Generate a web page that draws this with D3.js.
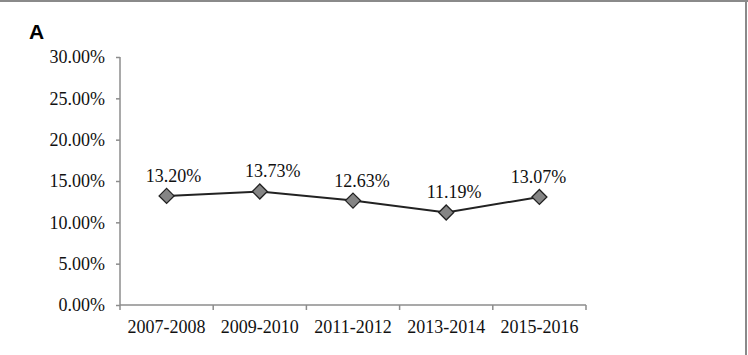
<!DOCTYPE html>
<html><head><meta charset="utf-8">
<script src="https://cdn.jsdelivr.net/npm/d3@7"></script>
<style>html,body{margin:0;padding:0;background:#fff;}svg{display:block;}</style>
</head><body>
<script>
const categories = ["2007-2008", "2009-2010", "2011-2012", "2013-2014", "2015-2016"];
const values = [13.20, 13.73, 12.63, 11.19, 13.07];
const yTicks = [0, 5, 10, 15, 20, 25, 30];
const panelLabel = "A";
// horizontal nudges of the data labels (px), as placed in the original
const labelNudge = [7, 13, 9, 8, -1];

(function () {
const W = 748, H = 355;
const svg = d3.select("body").append("svg").attr("width", W).attr("height", H);

// frame (top and right edges visible)
svg.append("line").attr("x1", 0).attr("x2", W).attr("y1", 1).attr("y2", 1)
  .attr("stroke", "#8a8a8a").attr("stroke-width", 2);
svg.append("line").attr("x1", 746).attr("x2", 746).attr("y1", 0).attr("y2", H)
  .attr("stroke", "#8a8a8a").attr("stroke-width", 2);

const pLeft = 120, pRight = 586, pTop = 57, pBottom = 305;
const x = d3.scaleBand().domain(categories).range([pLeft, pRight]);
const y = d3.scaleLinear().domain([0, 30]).range([pBottom, pTop]);

const axisColor = "#8c8c8c";
const font = "'Liberation Serif', 'Times New Roman', serif";

// y axis
const yAxis = svg.append("g").attr("transform", `translate(${pLeft},0)`)
  .call(d3.axisLeft(y).tickValues(yTicks).tickSize(4).tickPadding(11)
    .tickFormat(d => d.toFixed(2) + "%"));
yAxis.select(".domain").attr("stroke", axisColor).attr("stroke-width", 1.5).attr("d", `M0,${pTop}V${pBottom}`);
yAxis.selectAll(".tick line").attr("stroke", axisColor).attr("stroke-width", 1.5);
yAxis.selectAll(".tick text").attr("font-family", font).attr("font-size", 18).attr("fill", "#111");

// x axis with tick marks at band boundaries
const xg = svg.append("g").attr("transform", `translate(0,${pBottom})`);
xg.append("line").attr("x1", pLeft).attr("x2", pRight).attr("y1", 0).attr("y2", 0)
  .attr("stroke", axisColor).attr("stroke-width", 1.5);
const bounds = categories.map(c => x(c)).concat([x(categories[categories.length - 1]) + x.bandwidth()]);
xg.selectAll("line.tk").data(bounds).enter().append("line").attr("class", "tk")
  .attr("x1", d => d).attr("x2", d => d).attr("y1", 0).attr("y2", 5)
  .attr("stroke", axisColor).attr("stroke-width", 1.5);
xg.selectAll("text").data(categories).enter().append("text")
  .attr("x", d => x(d) + x.bandwidth() / 2).attr("y", 28)
  .attr("text-anchor", "middle").attr("font-family", font).attr("font-size", 18)
  .attr("fill", "#111").text(d => d);

// line
const cx = d => x(d) + x.bandwidth() / 2;
const line = d3.line().x((d, i) => cx(categories[i])).y(d => y(d));
svg.append("path").datum(values).attr("d", line)
  .attr("fill", "none").attr("stroke", "#222").attr("stroke-width", 2);

// markers
const s = 7.5;
svg.selectAll("path.mk").data(values).enter().append("path").attr("class", "mk")
  .attr("d", (d, i) => {
    const px = cx(categories[i]), py = y(d);
    return `M${px},${py - s}L${px + s},${py}L${px},${py + s}L${px - s},${py}Z`;
  })
  .attr("fill", "#858585").attr("stroke", "#222").attr("stroke-width", 1.3);

// data labels
svg.selectAll("text.lbl").data(values).enter().append("text").attr("class", "lbl")
  .attr("x", (d, i) => cx(categories[i]) + labelNudge[i]).attr("y", d => y(d) - 14)
  .attr("text-anchor", "middle").attr("font-family", font).attr("font-size", 18)
  .attr("fill", "#111").text(d => d.toFixed(2) + "%");

// panel label
svg.append("text").attr("x", 29).attr("y", 39)
  .attr("font-family", "'Liberation Sans', Arial, sans-serif").attr("font-weight", "bold")
  .attr("font-size", 21).attr("fill", "#000").text(panelLabel);
})();
</script>
</body></html>
